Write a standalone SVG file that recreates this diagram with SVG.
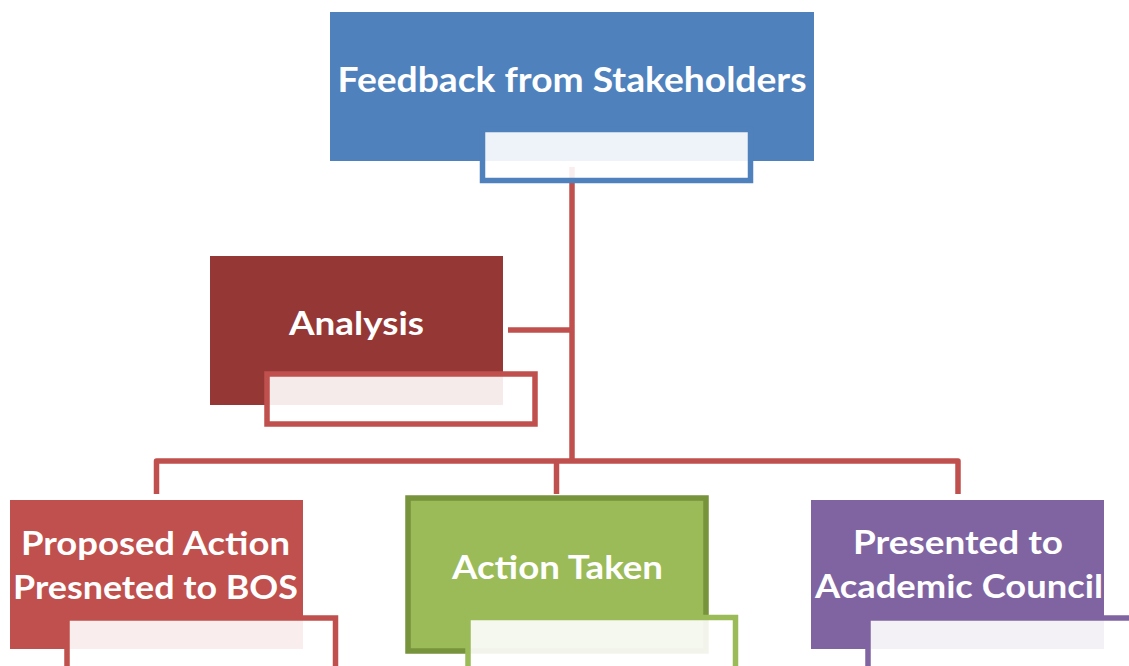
<svg xmlns="http://www.w3.org/2000/svg" width="1129" height="666" viewBox="0 0 1129 666">
<style>
.conn{fill:none;stroke:#C0504D;stroke-width:5.5;stroke-linejoin:round}
.lbl{font-family:Lato,"Open Sans","Liberation Sans",sans-serif;font-weight:bold;fill:#FFFFFF;text-anchor:middle}
.sub{fill:#FFFFFF;fill-opacity:0.9;stroke-width:5.5}
</style>
<rect width="1129" height="666" fill="#FFFFFF"/>
<g id="connectors">
<path class="conn" d="M572,167 V461"/>
<path class="conn" d="M508,330 H572"/>
<path class="conn" d="M156.5,494 V461 H958 V494"/>
<path class="conn" d="M556.5,461 V494"/>
</g>
<g id="node-feedback">
<rect x="330" y="12" width="484" height="149" fill="#4F81BD"/>
<text class="lbl" x="572" y="92" font-size="35" textLength="469" lengthAdjust="spacingAndGlyphs">Feedback from Stakeholders</text>
<rect class="sub" x="482.5" y="129.5" width="268" height="51" stroke="#4F81BD"/>
</g>
<g id="node-analysis">
<rect x="210" y="256" width="293" height="149" fill="#953735"/>
<text class="lbl" x="356.5" y="335" font-size="33" textLength="135" lengthAdjust="spacingAndGlyphs">Analysis</text>
<rect class="sub" x="267" y="374" width="268" height="50" stroke="#C0504D"/>
</g>
<g id="node-proposed">
<rect x="10" y="500" width="293" height="149" fill="#C0504D"/>
<text class="lbl" x="155.5" y="555" font-size="33" textLength="269" lengthAdjust="spacingAndGlyphs">Proposed Action</text>
<text class="lbl" x="155.5" y="599" font-size="33" textLength="285" lengthAdjust="spacingAndGlyphs">Presneted to BOS</text>
<rect class="sub" x="67" y="618" width="268.5" height="60" stroke="#C0504D"/>
</g>
<g id="node-action">
<rect x="408" y="498" width="298" height="153" fill="#9BBB59" stroke="#77933C" stroke-width="5.5"/>
<text class="lbl" x="557.5" y="579" font-size="33" textLength="211" lengthAdjust="spacingAndGlyphs">Action Taken</text>
<rect class="sub" x="468" y="617.5" width="267.5" height="60" stroke="#9BBB59"/>
</g>
<g id="node-presented">
<rect x="811" y="500" width="293" height="149" fill="#8064A2"/>
<text class="lbl" x="958" y="554" font-size="33" textLength="210" lengthAdjust="spacingAndGlyphs">Presented to</text>
<text class="lbl" x="959" y="598" font-size="33" textLength="288" lengthAdjust="spacingAndGlyphs">Academic Council</text>
<rect class="sub" x="868" y="618" width="268" height="60" stroke="#8064A2"/>
</g>
</svg>
